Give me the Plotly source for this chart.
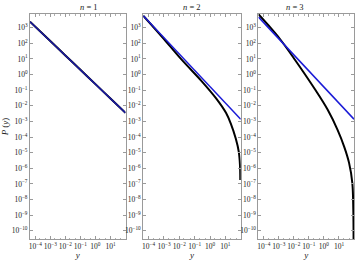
import plotly.graph_objects as go

# ---- data ----
titles = ["<i>n</i> = 1", "<i>n</i> = 2", "<i>n</i> = 3"]

x_tick_vals = [1e-4, 1e-3, 1e-2, 1e-1, 1e0, 1e1]
x_tick_text = ["10<sup>−4</sup>", "10<sup>−3</sup>", "10<sup>−2</sup>",
               "10<sup>−1</sup>", "10<sup>0</sup>", "10<sup>1</sup>"]
y_exps = list(range(3, -11, -1))
y_tick_vals = [10.0 ** e for e in y_exps]
y_tick_text = [("10<sup>%d</sup>" % e).replace("-", "−") for e in y_exps]

# power law (blue)
blue_x = [4.47e-5, 1e-3, 1e-2, 1e-1, 1.0, 10.0, 100.0]
blue1_p = [2427, 139.6, 16.8, 2.03, 0.245, 0.0295, 0.00356]
blue2_p = [5916, 229.6, 20.7, 1.87, 0.168, 0.0152, 0.00137]
blue3_p = [4853, 197.7, 18.5, 1.72, 0.161, 0.0150, 0.0014]

# exact distribution (black)
black1_x = [4.47e-5, 1e-3, 1e-2, 1e-1, 1.0, 10.0, 100.0]
black1_p = [2427, 139.6, 16.8, 2.03, 0.245, 0.0295, 0.00356]

black2_x = [4.47e-5, 7.40e-4, 0.01416, 0.2716, 2.489, 10.91, 22.8, 47.75,
            74.5, 88.9, 92.9]
black2_p = [5916, 264.9, 9.0, 0.40, 0.0300, 0.003556, 7.02e-4, 7.67e-5,
            1.125e-5, 1.652e-6, 1.803e-7]

black3_x = [4.47e-5, 2.018e-4, 1.230e-3, 0.01180, 0.2404, 1.786, 8.07, 22.13,
            46.99, 77.27, 89.95, 93.97]
black3_p = [7328, 1445, 183.2, 8.9, 0.1230, 5.546e-3, 2.897e-4, 2.460e-5,
            2.218e-6, 1.159e-7, 2.153e-9, 1.259e-11]

blacks = [(black1_x, black1_p), (black2_x, black2_p), (black3_x, black3_p)]
blues = [blue1_p, blue2_p, blue3_p]

# ---- figure ----
FONT = "Liberation Serif"
BLUE = "#1a1ad6"
domains = [[0.0, 0.2948], [0.3495, 0.6505], [0.7052, 1.0]]

fig = go.Figure()
for i in range(3):
    ax = "" if i == 0 else str(i + 1)
    bx, bp = blacks[i]
    fig.add_trace(go.Scatter(x=bx, y=bp, mode="lines",
                             line=dict(color="black", width=2.0, shape="spline"),
                             xaxis="x" + ax, yaxis="y" + ax, showlegend=False))
    fig.add_trace(go.Scatter(x=blue_x, y=blues[i], mode="lines",
                             line=dict(color=BLUE if i else "#1a1aa0", width=1.6),
                             xaxis="x" + ax, yaxis="y" + ax, showlegend=False))

    common = dict(type="log", showline=True, mirror="ticks", linecolor="#9a9a9a",
                  linewidth=1, ticks="inside", ticklen=3, tickcolor="#9a9a9a",
                  showgrid=False, zeroline=False, tickangle=0,
                  tickfont=dict(family=FONT, size=7.5, color="#222"))
    xa = dict(common, domain=domains[i], range=[-4.35, 2.0],
              tickvals=x_tick_vals, ticktext=x_tick_text, anchor="y" + ax,
              title=dict(text="<i>y</i>", font=dict(family=FONT, size=9, color="#222"),
                         standoff=0),
              minor=dict(ticks="inside", ticklen=1.5, tickcolor="#b0b0b0"))
    ya = dict(common, domain=[0, 1], range=[-10.53, 3.88],
              tickvals=y_tick_vals, ticktext=y_tick_text, anchor="x" + ax)
    if i == 0:
        ya["title"] = dict(text="<i>P</i> (<i>y</i>)",
                           font=dict(family=FONT, size=9, color="#222"), standoff=2)
    fig.update_layout(**{"xaxis" + ax: xa, "yaxis" + ax: ya})
    fig.add_annotation(text=titles[i], x=sum(domains[i]) / 2, y=1.0,
                       xref="paper", yref="paper", yanchor="bottom", yshift=0,
                       showarrow=False, font=dict(family=FONT, size=8.5, color="#222"))

fig.update_layout(width=358, height=260, margin=dict(l=26, r=3, t=14, b=21),
                  paper_bgcolor="white", plot_bgcolor="white",
                  font=dict(family=FONT))
fig.write_html("out.html")
